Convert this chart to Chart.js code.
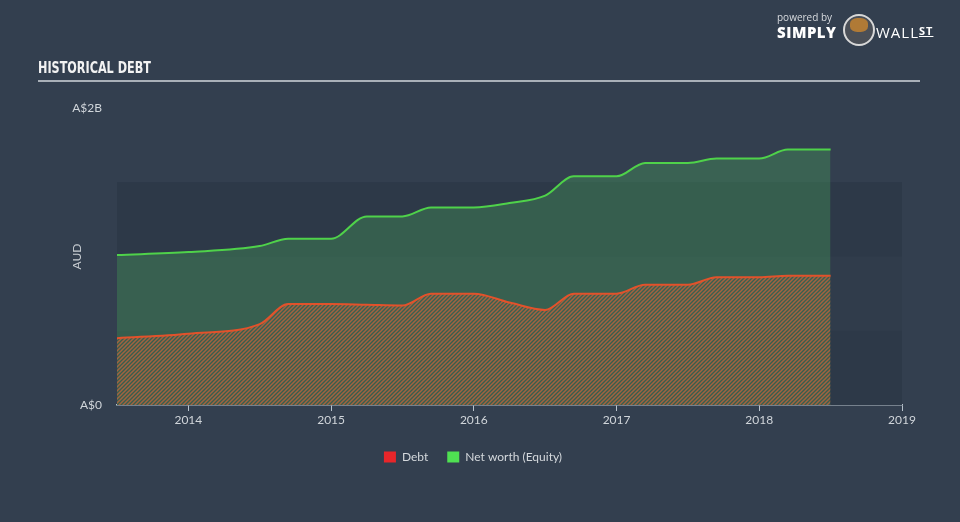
<!DOCTYPE html>
<html>
<head>
<meta charset="utf-8">
<script src="https://cdn.jsdelivr.net/npm/chart.js@4.4.1/dist/chart.umd.min.js"></script>
<style>
  html, body { margin: 0; padding: 0; background: #333f4f; }
  #wrap { position: relative; width: 960px; height: 522px; background: #333f4f; overflow: hidden; }
  #title { position: absolute; left: 38px; top: 58px; color: #f2f2f2; font: bold 16px "DejaVu Sans Condensed", "DejaVu Sans"; transform: scale(0.78, 1); transform-origin: left top; letter-spacing: 0px; }
  #rule { position: absolute; left: 38px; top: 80px; width: 882px; height: 2px; background: #a9b0b8; }
  #logo { position: absolute; left: 777px; top: 10px; color: #fff; font-family: "Open Sans", sans-serif; }
  #logo .pw { position: absolute; left: 0; top: 0; font-size: 10px; color: #d8dbdf; white-space: nowrap; }
  #logo .sm { position: absolute; left: 0; top: 12px; font-size: 15px; font-weight: 800; letter-spacing: 0.5px; white-space: nowrap; }
  #logo .ic { position: absolute; left: 66px; top: 4px; width: 28px; height: 28px; border-radius: 50%; background: #4a4f57; border: 2px solid #d8d8d8; }
  #logo .ic i { position: absolute; left: 5px; top: 2px; width: 18px; height: 14px; border-radius: 40%; background: #b07a36; }
  #logo .ws { position: absolute; left: 99px; top: 12px; font-size: 15px; font-weight: 400; letter-spacing: 1px; white-space: nowrap; }
  #logo .ws u { font-size: 11px; font-weight: 700; text-decoration: underline; vertical-align: 3px; }
  canvas { position: absolute; left: 0; top: 0; }
</style>
</head>
<body>
<div id="wrap">
  <canvas id="myChart" width="960" height="522"></canvas>
  <div id="title">HISTORICAL DEBT</div>
  <div id="rule"></div>
  <div id="logo">
    <div class="pw">powered by</div>
    <div class="sm">SIMPLY</div>
    <div class="ic"><i></i></div>
    <div class="ws">WALL<u>ST</u></div>
  </div>
</div>
<script>
// decimal years of the reporting points
const dates = [2013.5, 2014.0, 2014.5, 2014.7, 2015.0, 2015.25, 2015.5, 2015.7, 2016.0, 2016.25, 2016.5, 2016.7, 2017.0, 2017.2, 2017.5, 2017.7, 2018.0, 2018.2, 2018.5]
// values in A$ billions
const debt = [0.45, 0.48, 0.545, 0.68, 0.68, 0.675, 0.67, 0.75, 0.75, 0.69, 0.64, 0.75, 0.75, 0.81, 0.81, 0.86, 0.86, 0.87, 0.87]
const equity = [1.01, 1.03, 1.07, 1.12, 1.12, 1.27, 1.27, 1.33, 1.33, 1.36, 1.41, 1.54, 1.54, 1.63, 1.63, 1.66, 1.66, 1.72, 1.72]
const yearTicks = [2014, 2015, 2016, 2017, 2018, 2019]
const yTicks = [0, 2]
const yLabels = {0: "A$0", 2: "A$2B"}

function hatch(){
    const c = document.createElement("canvas")
    c.width = 4; c.height = 4
    const g = c.getContext("2d")
    g.strokeStyle = "rgba(190,100,60,0.8)"
    g.lineWidth = 1.5
    g.beginPath()
    g.moveTo(0, 4); g.lineTo(4, 0)
    g.moveTo(-1, 1); g.lineTo(1, -1)
    g.moveTo(3, 5); g.lineTo(5, 3)
    g.stroke()
    return g.createPattern(c, "repeat")
}

const bands = {
    id: "bands",
    beforeDatasetsDraw(chart){
        const {ctx, chartArea: a, scales: {y}} = chart
        const rows = [[0, 0.5, "#2d3948"], [0.5, 1, "#303c4b"], [1, 1.5, "#2d3948"]]
        ctx.save()
        rows.forEach(r => {
            const top = y.getPixelForValue(r[1]), bot = y.getPixelForValue(r[0])
            ctx.fillStyle = r[2]
            ctx.fillRect(a.left, top, a.right - a.left, bot - top)
        })
        ctx.restore()
    }
}

// the legend sits centred on the page, not on the plot
const legendShift = {
    id: "legendShift",
    afterLayout(chart){
        chart.legend.left += 22
        chart.legend.right += 22
    }
}

const font = {family: "Lato, 'Open Sans', sans-serif", size: 12}

const ctx = document.getElementById("myChart").getContext("2d")
const myChart = new Chart(ctx, {
    type: "line",
    data: {
        datasets: [
            {
                label: "Debt",
                data: dates.map((d, i) => ({x: d, y: debt[i]})),
                borderColor: "#e2522b",
                backgroundColor: "#e8262a",
                fill: {target: "origin", above: hatch()},
                borderWidth: 2,
                pointRadius: 0,
                cubicInterpolationMode: "monotone",
                order: 0
            },
            {
                label: "Net worth (Equity)",
                data: dates.map((d, i) => ({x: d, y: equity[i]})),
                borderColor: "#4fd24a",
                backgroundColor: "#4fe052",
                fill: {target: "origin", above: "rgba(72,170,90,0.33)"},
                borderWidth: 2,
                pointRadius: 0,
                cubicInterpolationMode: "monotone",
                order: 1
            }
        ]
    },
    options: {
        responsive: false,
        animation: false,
        devicePixelRatio: 1,
        layout: {padding: {left: 0, right: 58, top: 108, bottom: 49}},
        plugins: {
            legend: {
                position: "bottom",
                labels: {
                    color: "#d4d8dc",
                    font: {family: font.family, size: 12},
                    boxWidth: 12, boxHeight: 11, padding: 19,
                    generateLabels(chart){
                        return chart.data.datasets.map((ds, i) => ({
                            text: ds.label, fillStyle: ds.backgroundColor, strokeStyle: ds.backgroundColor,
                            lineWidth: 0, datasetIndex: i, fontColor: "#d4d8dc"
                        }))
                    }
                }
            },
            tooltip: {enabled: false}
        },
        scales: {
            x: {
                type: "linear",
                min: 2013.5, max: 2019,
                afterBuildTicks: s => { s.ticks = yearTicks.map(v => ({value: v})) },
                afterFit: s => { s.height = 27 },
                ticks: {color: "#d0d5da", font: font, padding: 2, callback: v => String(v)},
                grid: {drawOnChartArea: false, drawTicks: true, tickLength: 6, color: "#b9c3cc"},
                border: {color: "#b9c3cc", width: 1.5}
            },
            y: {
                min: 0, max: 2,
                afterBuildTicks: s => { s.ticks = yTicks.map(v => ({value: v})) },
                afterFit: s => { s.width = 117 },
                ticks: {color: "#d0d5da", font: font, padding: 7, callback: v => yLabels[v]},
                grid: {display: false},
                border: {display: false},
                title: {display: true, text: "AUD", color: "#c8cdd2", font: font, padding: {top: 70, bottom: 0}}
            }
        }
    },
    plugins: [bands, legendShift]
})
myChart.update()
</script>
</body>
</html>
